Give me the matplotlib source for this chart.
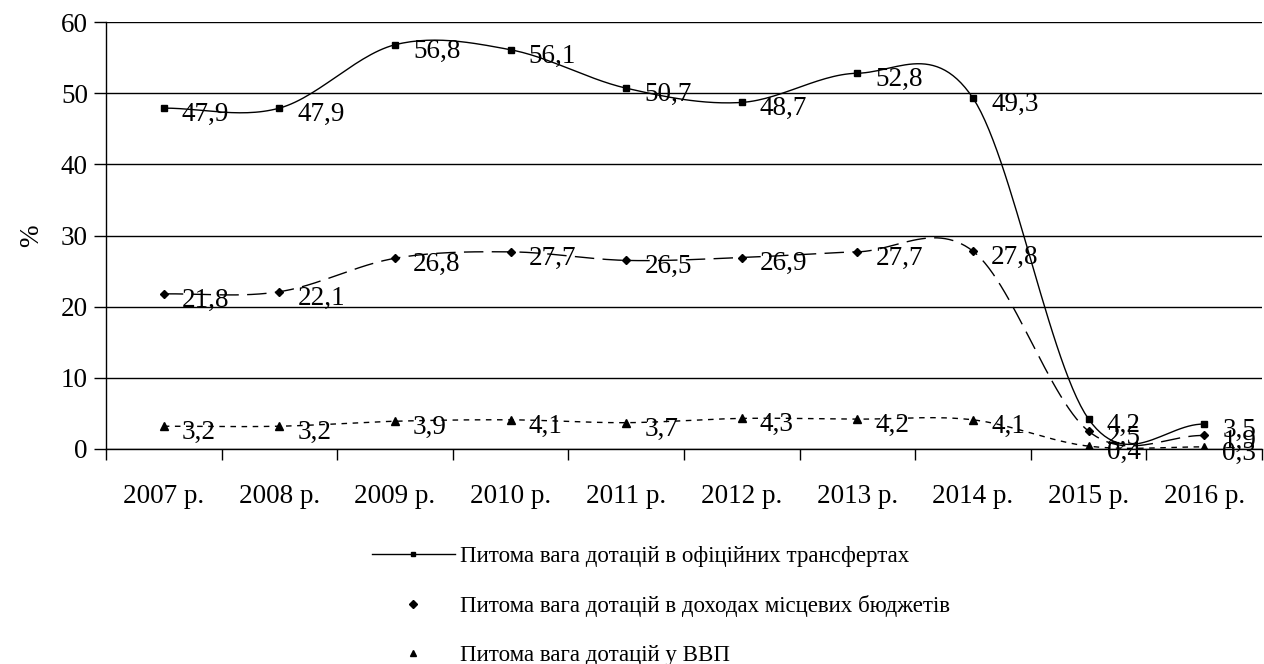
import numpy as np
import matplotlib
matplotlib.use("Agg")
import matplotlib.pyplot as plt
from matplotlib.lines import Line2D

plt.rcParams['font.family'] = ['Liberation Serif', 'DejaVu Serif']

years = ["2007 р.", "2008 р.", "2009 р.", "2010 р.", "2011 р.", "2012 р.",
         "2013 р.", "2014 р.", "2015 р.", "2016 р."]
s_transfers = [47.9, 47.9, 56.8, 56.1, 50.7, 48.7, 52.8, 49.3, 4.2, 3.5]
s_budgets = [21.8, 22.1, 26.8, 27.7, 26.5, 26.9, 27.7, 27.8, 2.5, 1.9]
s_gdp = [3.2, 3.2, 3.9, 4.1, 3.7, 4.3, 4.2, 4.1, 0.4, 0.3]
names = ["Питома вага дотацій в офіційних трансфертах",
         "Питома вага дотацій в доходах місцевих бюджетів",
         "Питома вага дотацій у ВВП"]


def smooth(x, y, n=30, t=0.5):
    # Catmull-Rom style smoothing for drawing the line (Excel "smoothed line")
    x = np.asarray(x, float); y = np.asarray(y, float)
    px = np.concatenate([[2 * x[0] - x[1]], x, [2 * x[-1] - x[-2]]])
    py = np.concatenate([[y[0]], y, [y[-1]]])
    xs, ys = [], []
    for i in range(1, len(px) - 2):
        p0, p1, p2, p3 = (np.array([px[j], py[j]]) for j in (i - 1, i, i + 1, i + 2))
        c1 = p1 + (p2 - p0) * t / 3
        c2 = p2 - (p3 - p1) * t / 3
        u = np.linspace(0, 1, n)[:, None]
        b = ((1 - u) ** 3) * p1 + 3 * ((1 - u) ** 2) * u * c1 + 3 * (1 - u) * u ** 2 * c2 + u ** 3 * p2
        xs.append(b[:, 0]); ys.append(b[:, 1])
    return np.concatenate(xs), np.concatenate(ys)


fig = plt.figure(figsize=(12.64, 6.64), dpi=100)
ax = fig.add_axes([106 / 1264, 1 - 449 / 664, 1156 / 1264, 427 / 664])
x = np.arange(len(years))

styles = [
    (s_transfers, 's', 4, (0, ()),),
    (s_budgets, 'D', 4.5, (0, (14, 6)),),
    (s_gdp, '^', 6, (0, (4, 4)),),
]
for data, mk, ms, ls in styles:
    sx, sy = smooth(x, data)
    ax.plot(sx, sy, color='black', lw=1.0, linestyle=ls, zorder=3)
    ax.plot(x, data, linestyle='none', marker=mk, ms=ms, color='black', zorder=4)
    for xi, v in zip(x, data):
        ax.annotate(f"{v:.1f}".replace('.', ','), (xi, v), xytext=(13, -4.5),
                    textcoords='offset points', ha='left', va='center',
                    fontsize=19.5, color='black', zorder=5)

ax.set_xlim(-0.5, len(years) - 0.5)
ax.set_ylim(0, 60)
ax.set_yticks(range(0, 61, 10))
ax.yaxis.grid(True, color='black', lw=1.0)
ax.set_axisbelow(True)
ax.set_xticks(x)
ax.set_xticklabels(years, fontsize=19.5)
ax.set_xticks(np.arange(-0.5, len(years), 1), minor=True)
ax.tick_params(axis='x', which='major', length=0, pad=25)
ax.tick_params(axis='x', which='minor', length=8, width=1, direction='out')
ax.tick_params(axis='y', length=9, width=1, direction='out', labelsize=19.5, pad=4)
for sp in ['top', 'right']:
    ax.spines[sp].set_visible(False)
for sp in ['left', 'bottom']:
    ax.spines[sp].set_linewidth(1.0)
ax.set_ylabel('%', fontsize=19.5, labelpad=12)

handles = [
    Line2D([], [], color='black', lw=1.0, marker='s', ms=3),
    Line2D([], [], color='none', marker='D', ms=4, markerfacecolor='black', markeredgecolor='black'),
    Line2D([], [], color='none', marker='^', ms=5, markerfacecolor='black', markeredgecolor='black'),
]
fig.legend(handles, names, loc='upper left', bbox_to_anchor=(372 / 1264, 1 - 546 / 664),
           frameon=False, fontsize=16.5, handlelength=3.6, handletextpad=0.25,
           labelspacing=1.22, borderpad=0, borderaxespad=0)

fig.savefig('out.png', dpi=100)
